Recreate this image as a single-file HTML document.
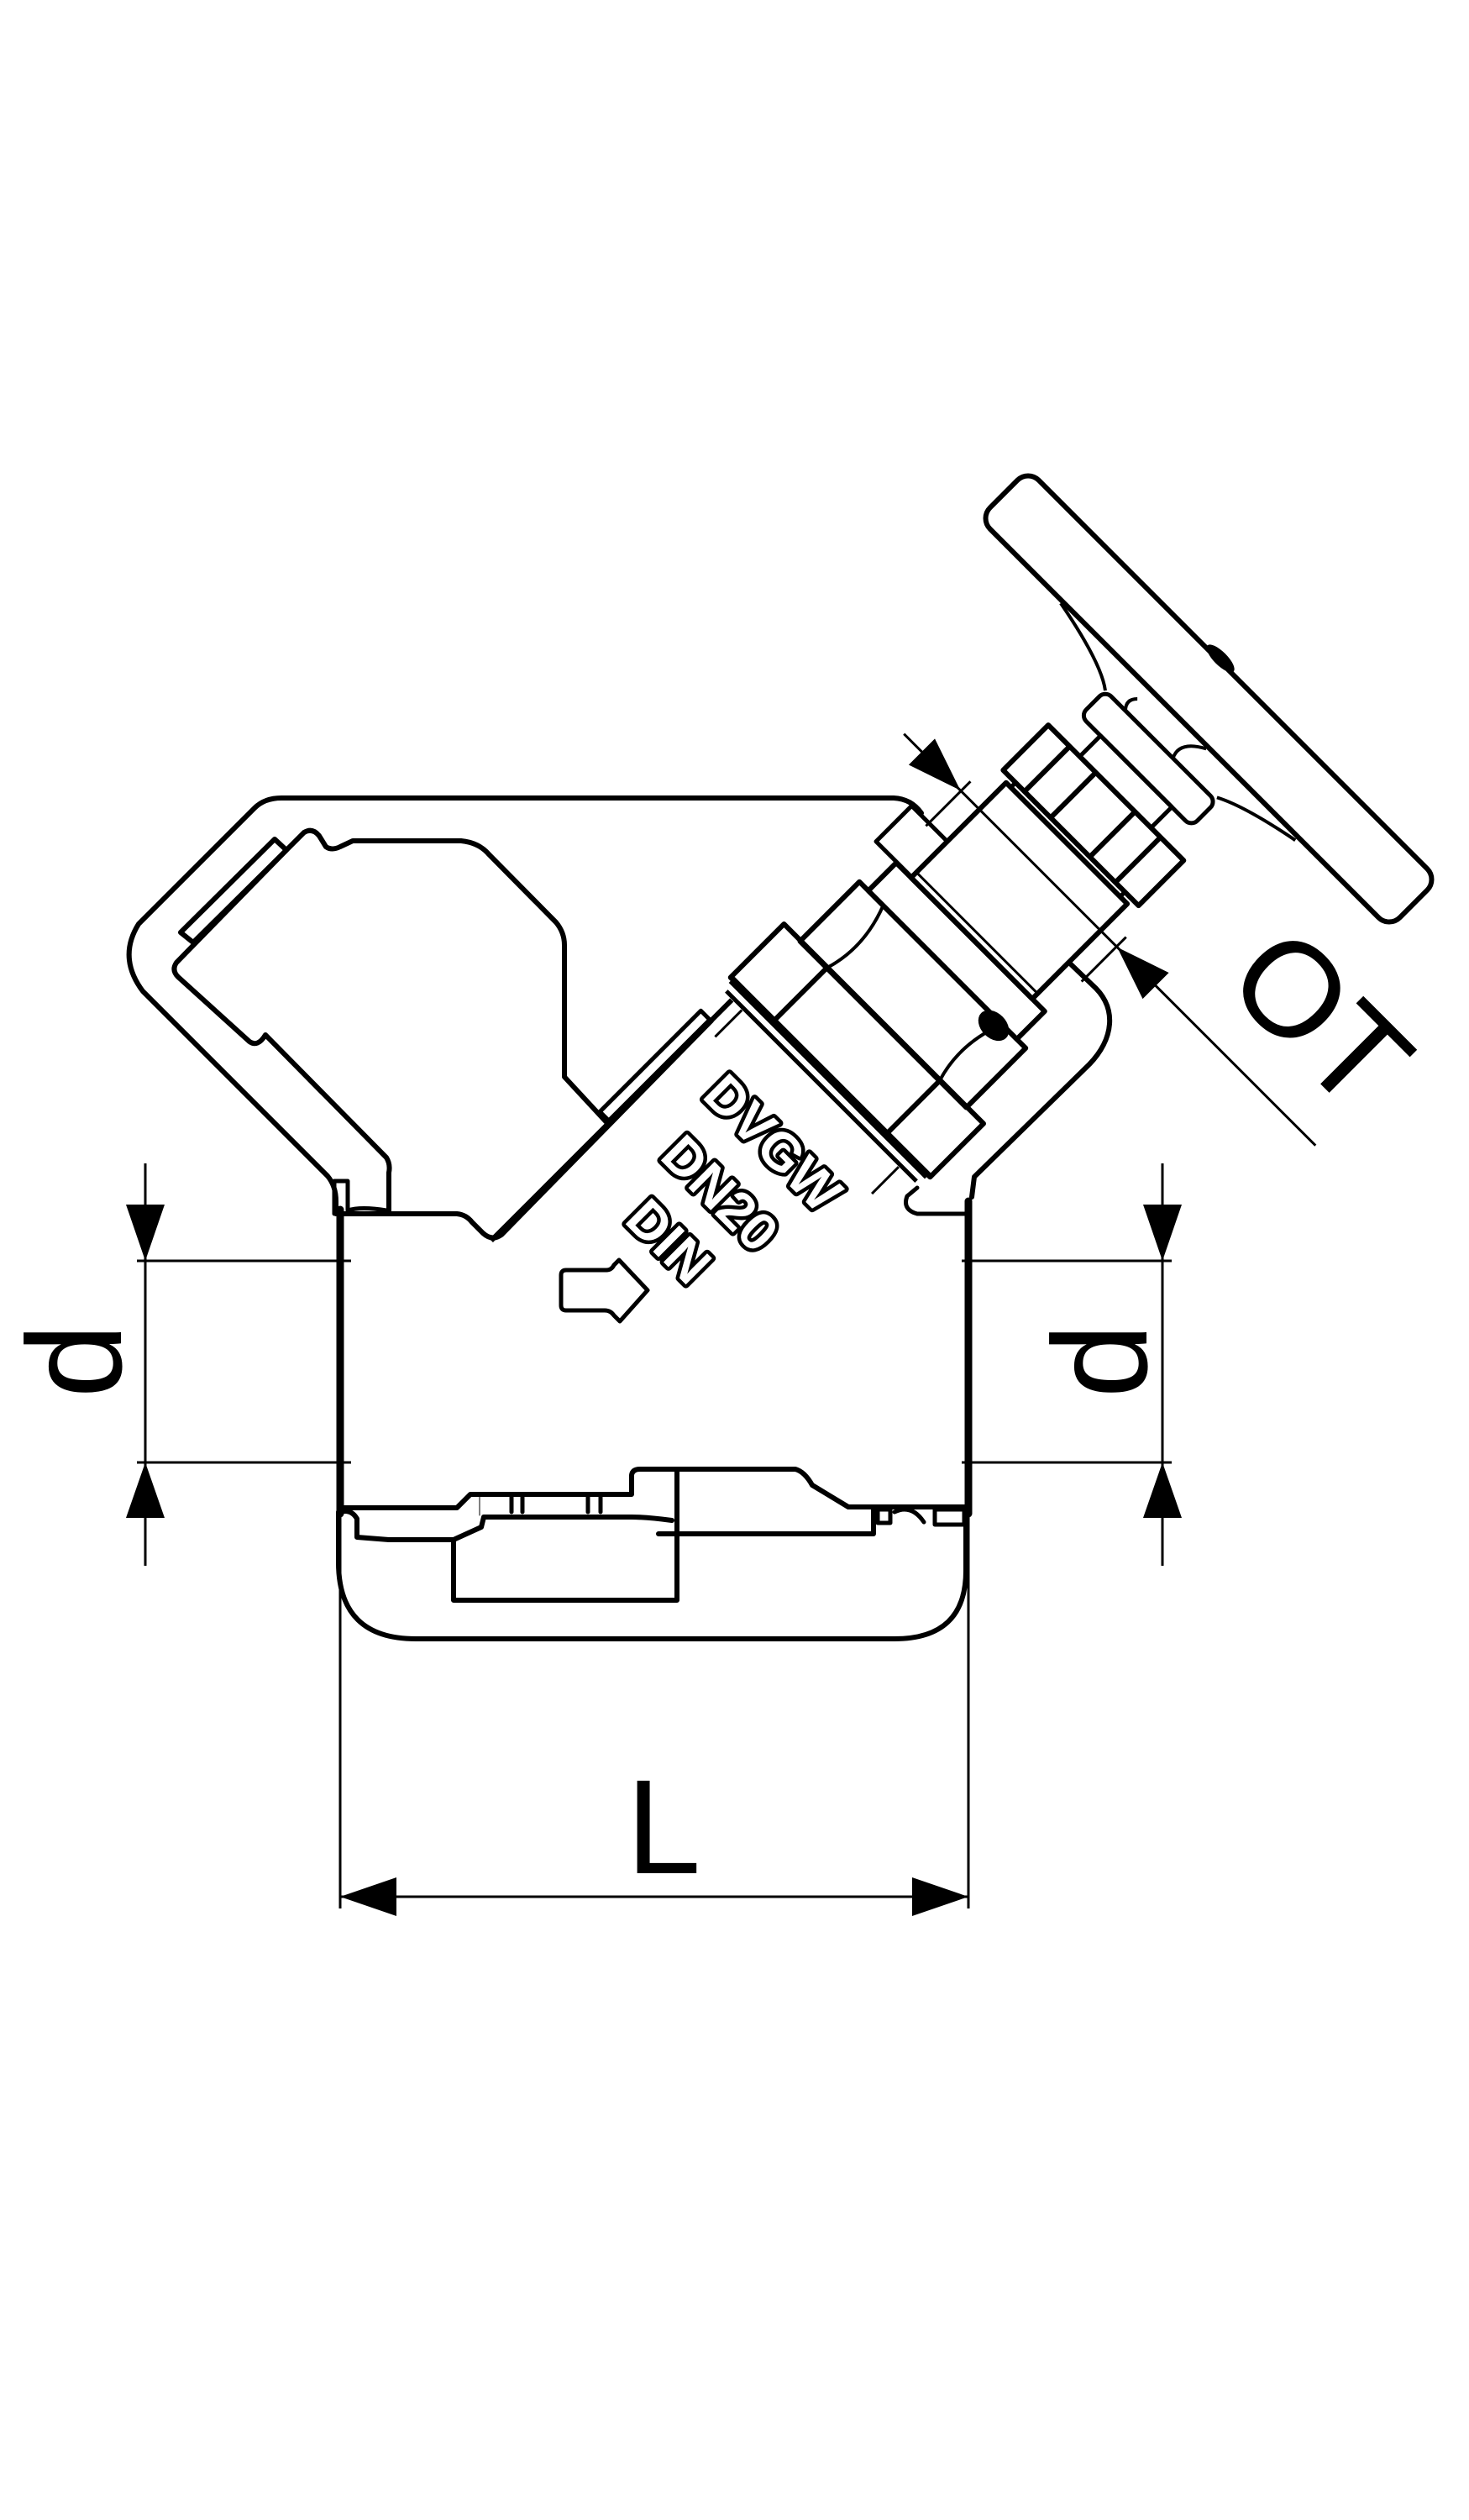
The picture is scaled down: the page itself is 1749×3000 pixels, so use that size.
<!DOCTYPE html>
<html><head><meta charset="utf-8"><style>html,body{margin:0;padding:0;background:#fff}svg{display:block}</style></head>
<body>
<svg width="1749" height="3000" viewBox="0 0 1749 3000" xmlns="http://www.w3.org/2000/svg">
<rect width="1749" height="3000" fill="#fff"/>
<g fill="none" stroke="#000" stroke-linejoin="round" stroke-linecap="round">
<path d="M1097 968 Q1085 951 1064 950 L335 950 Q315 950 303 962 L165 1100 Q140 1140 170 1180 L390 1400 Q400 1412 400 1430 L400 1445" stroke-width="6"/>
<path d="M341 1012 L210 1146 Q204 1155 212 1163 L297 1240 Q307 1247 316 1232 L460 1378 Q465 1386 463 1396 L463 1441" stroke-width="6"/>
<polygon points="215,1110 327,999 341,1012 230,1122" stroke-width="6"/>
<path d="M398 1445 L398 1406 L414 1406 L414 1441 Q430 1436 460 1441" stroke-width="5"/>
<path d="M341 1012 L362 991 Q372 985 380 995 L388 1008 Q395 1013 405 1008 L420 1001 L549 1001 Q570 1003 582 1017 L662 1098 Q672 1110 672 1125 L672 1282 L722 1336" stroke-width="6"/>
<path d="M405 1445 L544 1445 Q555 1446 562 1455 L575 1468 Q586 1478 597 1470 L847 1215" stroke-width="6"/>
<line x1="405" y1="1440" x2="405" y2="1802" stroke-width="9"/>
<line x1="1153" y1="1430" x2="1153" y2="1802" stroke-width="9"/>
<path d="M1157 1425 L1160 1401 L1297 1267 C1325 1238 1332 1200 1300 1172 L1275 1148" stroke-width="6"/>
<path d="M1153 1445 L1092 1445 Q1074 1440 1080 1424 L1092 1414" stroke-width="5"/>
<path d="M403 1800 L403 1860 Q403 1951 495 1951 L1065 1951 Q1150 1951 1150 1870 L1150 1800" stroke-width="6"/>
<path d="M405 1795 L544 1795 L560 1779 L752 1779 L752 1756 Q753 1749 762 1749 L947 1749 Q958 1752 967 1768 L1010 1794 L1150 1794" stroke-width="6"/>
<path d="M405 1800 Q418 1796 425 1808 L425 1830 L463 1833 L540 1833 L573 1818 L576 1806 L752 1806 Q770 1806 800 1810" stroke-width="6"/>
<polyline points="540,1833 540,1905 806,1905 806,1750" stroke-width="6"/>
<polyline points="784,1826 1040,1826 1040,1795" stroke-width="6"/>
<line x1="571" y1="1779" x2="571" y2="1804"/><line x1="609" y1="1779" x2="609" y2="1800" stroke-width="5"/><line x1="622" y1="1779" x2="622" y2="1800" stroke-width="5"/>
<line x1="700" y1="1779" x2="700" y2="1800" stroke-width="5"/><line x1="715" y1="1779" x2="715" y2="1800" stroke-width="5"/>
<rect x="1045" y="1797" width="15" height="16" stroke-width="5"/>
<rect x="1113" y="1797" width="35" height="18" stroke-width="5"/>
<path d="M1065 1800 Q1085 1790 1100 1812" stroke-width="5"/>
</g>

<g transform="translate(1439,832) rotate(-45)" fill="none" stroke="#000" stroke-linejoin="round">
<line x1="-1060" y1="-148" x2="-655" y2="-148" stroke-width="6"/>
<rect x="-860" y="-165" width="170" height="15" stroke-width="5"/>
<line x1="-652" y1="-160" x2="-652" y2="160" stroke-width="5"/>
<line x1="-638" y1="-165" x2="-638" y2="165" stroke-width="10"/>
<rect x="-637" y="-168" width="90" height="336" stroke-width="6"/>
<line x1="-637" y1="-95" x2="-548" y2="-95" stroke-width="6"/>
<line x1="-637" y1="95" x2="-548" y2="95" stroke-width="6"/>
<rect x="-548" y="-140" width="100" height="280" stroke-width="6"/>
<path d="M-548 -95 Q-500 -80 -448 -100 M-548 95 Q-500 80 -448 100" stroke-width="4"/>
<rect x="-448" y="-125" width="47" height="250" stroke-width="6"/>
<rect x="-400" y="-160" width="60" height="60" stroke-width="5"/>
<rect x="-401" y="-100" width="160" height="204" stroke-width="6"/>
<line x1="-392" y1="-100" x2="-392" y2="104" stroke-width="3"/>
<rect x="-241" y="-92" width="8" height="184" stroke-width="5"/>
<rect x="-233" y="-113" width="76" height="228" stroke-width="6"/>
<line x1="-233" y1="-77" x2="-157" y2="-77" stroke-width="6"/>
<line x1="-233" y1="-33" x2="-157" y2="-33" stroke-width="6"/>
<line x1="-233" y1="33" x2="-157" y2="33" stroke-width="6"/>
<line x1="-233" y1="76" x2="-157" y2="76" stroke-width="6"/>
<rect x="-157" y="-60" width="35" height="120" stroke-width="5"/>
<rect x="-122" y="-94" width="42" height="187" rx="10" stroke-width="5"/>
<path d="M-44 -205 Q-60 -120 -80 -94 M-46 192 Q-60 120 -76 90 M-80 -60 Q-70 -70 -60 -60" stroke-width="4"/>
<path d="M-80 20 Q-60 10 -44 40" stroke-width="4"/>
<rect x="-41" y="-345" width="82" height="690" rx="18" stroke-width="6"/>
<ellipse cx="44" cy="-24" rx="8" ry="22" fill="#000" stroke="none"/>
<ellipse cx="-456" cy="94" rx="15" ry="21" fill="#000" stroke="none"/>
<line x1="-286" y1="-227" x2="-286" y2="466" stroke-width="3"/>
<polygon points="-286,-132 -308,-197 -264,-197" fill="#000" stroke="none"/>
<polygon points="-286,132 -308,197 -264,197" fill="#000" stroke="none"/>
<line x1="-345" y1="-131" x2="-270" y2="-131" stroke-width="3"/>
<line x1="-345" y1="131" x2="-270" y2="131" stroke-width="3"/>
<line x1="-700" y1="-131" x2="-655" y2="-131" stroke-width="3"/>
<line x1="-700" y1="133" x2="-655" y2="133" stroke-width="3"/>
</g>

<path d="M674 1512 L722 1512 Q728 1512 731 1506 L737 1500 L771 1536 L738 1573 L731 1566 Q727 1560 720 1560 L674 1560 Q668 1560 668 1554 L668 1518 Q668 1512 674 1512 Z" fill="none" stroke="#000" stroke-width="5" stroke-linejoin="round"/>

<g font-family="Liberation Sans, sans-serif" font-weight="bold" font-size="64" fill="#fff" stroke="#000" stroke-width="9" text-anchor="middle" stroke-linejoin="round">
<text transform="translate(921,1360) rotate(45)" y="23">DVGW</text>
<text transform="translate(858,1420) rotate(45)" y="23">DN20</text>
<text transform="translate(797,1477) rotate(45)" y="23">DIN</text>
</g>
<g font-family="Liberation Sans, sans-serif" font-weight="bold" font-size="64" fill="#fff" text-anchor="middle">
<text transform="translate(921,1360) rotate(45)" y="23">DVGW</text>
<text transform="translate(858,1420) rotate(45)" y="23">DN20</text>
<text transform="translate(797,1477) rotate(45)" y="23">DIN</text>
</g>

<g stroke="#000" stroke-width="3">
<line x1="173" y1="1385" x2="173" y2="1864"/>
<line x1="163" y1="1501" x2="418" y2="1501"/>
<line x1="163" y1="1741" x2="418" y2="1741"/>
<line x1="1384" y1="1385" x2="1384" y2="1864"/>
<line x1="1145" y1="1501" x2="1395" y2="1501"/>
<line x1="1145" y1="1741" x2="1395" y2="1741"/>
<line x1="405" y1="1800" x2="405" y2="2272"/>
<line x1="1153" y1="1800" x2="1153" y2="2272"/>
<line x1="405" y1="2258" x2="1153" y2="2258"/>
</g>
<g fill="#000">
<polygon points="173,1501 150,1434 196,1434"/>
<polygon points="173,1741 150,1807 196,1807"/>
<polygon points="1384,1501 1361,1434 1407,1434"/>
<polygon points="1384,1741 1361,1807 1407,1807"/>
<polygon points="405,2258 472,2235 472,2281"/>
<polygon points="1153,2258 1086,2235 1086,2281"/>
</g>
<g font-family="Liberation Sans, sans-serif" font-size="160" fill="#000" text-anchor="middle">
<text x="790" y="2230">L</text>
<text transform="translate(86,1620) rotate(-90)" y="58">d</text>
<text transform="translate(1307,1620) rotate(-90)" y="58">d</text>
<text transform="translate(1573,1212) rotate(45)" y="56">OT</text>
</g>
</svg>
</body></html>
